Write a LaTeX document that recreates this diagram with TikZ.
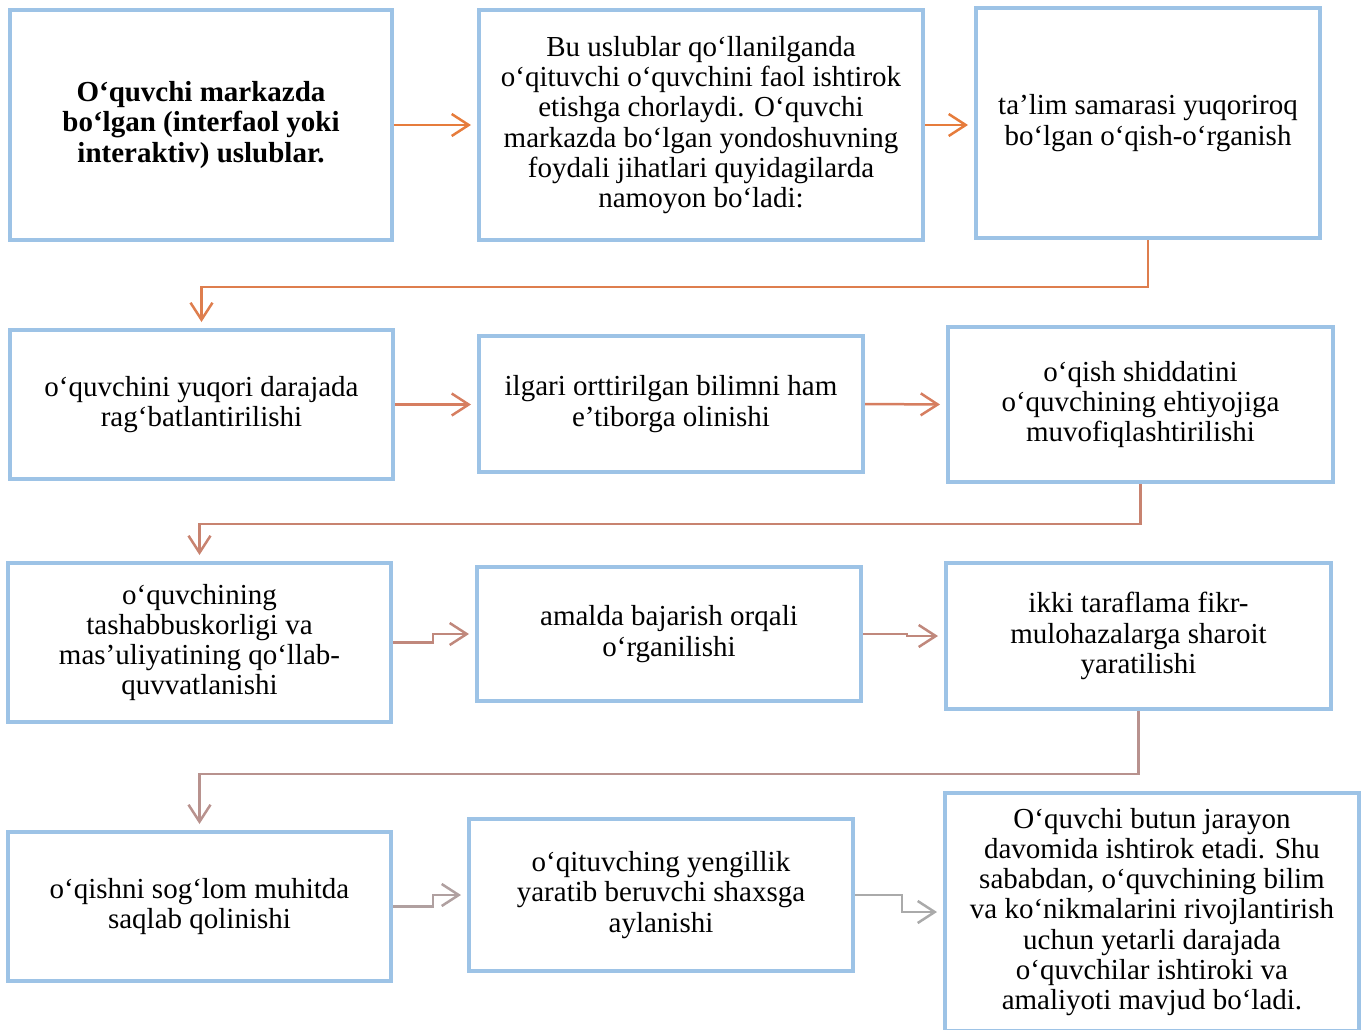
\documentclass[tikz,border=0pt]{standalone}
\usepackage{fontspec}
\setmainfont{Liberation Serif}
\usetikzlibrary{arrows.meta}
\definecolor{boxblue}{RGB}{157,195,230}
\definecolor{linkA}{RGB}{230,124,60}
\definecolor{linkB}{RGB}{222,126,78}
\definecolor{linkC}{RGB}{214,126,96}
\definecolor{linkD}{RGB}{200,131,112}
\definecolor{linkE}{RGB}{192,136,124}
\definecolor{linkF}{RGB}{184,146,142}
\definecolor{linkG}{RGB}{176,160,160}
\definecolor{linkH}{RGB}{170,170,170}
\begin{document}
\begin{tikzpicture}
	[x=1pt,y=-1pt,
	 box/.style={rectangle,draw=boxblue,line width=4pt,inner sep=0pt,align=center,
	   font=\fontsize{29}{30.3}\selectfont},
	 link/.style={line width=2.5pt,shorten >=6pt,-{Straight Barb[length=17pt,width=22pt,line width=2.5pt]}}]
	\useasboundingbox (0,0) rectangle (1361,1029);
	% first row
	\node[box,name=b1,minimum width=382pt,minimum height=230pt] at (201,125)
		{\bfseries O‘quvchi markazda\\\bfseries bo‘lgan (interfaol yoki\\\bfseries interaktiv) uslublar.};
	\node[box,name=b2,minimum width=444pt,minimum height=230pt] at (701,125)
		{Bu uslublar qo‘llanilganda\\o‘qituvchi o‘quvchini faol ishtirok\\etishga chorlaydi. O‘quvchi\\markazda bo‘lgan yondoshuvning\\foydali jihatlari quyidagilarda\\namoyon bo‘ladi:};
	\node[box,name=b3,minimum width=344pt,minimum height=230pt] at (1148,123)
		{ta’lim samarasi yuqoriroq\\bo‘lgan o‘qish-o‘rganish};
	% second row
	\node[box,name=b4,minimum width=383pt,minimum height=149pt] at (201.5,404.5)
		{o‘quvchini yuqori darajada\\rag‘batlantirilishi};
	\node[box,name=b5,minimum width=384pt,minimum height=136pt] at (671,404)
		{ilgari orttirilgan bilimni ham\\e’tiborga olinishi};
	\node[box,name=b6,minimum width=385pt,minimum height=155pt] at (1140.5,404.5)
		{o‘qish shiddatini\\o‘quvchining ehtiyojiga\\muvofiqlashtirilishi};
	% third row
	\node[box,name=b7,minimum width=383pt,minimum height=159pt] at (199.5,642.5)
		{o‘quvchining\\tashabbuskorligi va\\mas’uliyatining qo‘llab-\\quvvatlanishi};
	\node[box,name=b8,minimum width=384pt,minimum height=134pt] at (669,634)
		{amalda bajarish orqali\\o‘rganilishi};
	\node[box,name=b9,minimum width=385pt,minimum height=146pt] at (1138.5,636)
		{ikki taraflama fikr-\\mulohazalarga sharoit\\yaratilishi};
	% fourth row
	\node[box,name=b10,minimum width=383pt,minimum height=149pt] at (199.5,906.5)
		{o‘qishni sog‘lom muhitda\\saqlab qolinishi};
	\node[box,name=b11,minimum width=384pt,minimum height=152pt] at (661,895)
		{o‘qituvching yengillik\\yaratib beruvchi shaxsga\\aylanishi};
	\node[box,name=b12,minimum width=414pt,minimum height=238pt] at (1152,912)
		{O‘quvchi butun jarayon\\davomida ishtirok etadi. Shu\\sababdan, o‘quvchining bilim\\va ko‘nikmalarini rivojlantirish\\uchun yetarli darajada\\o‘quvchilar ishtiroki va\\amaliyoti mavjud bo‘ladi.};
	% connectors
	\draw[link,linkA](b1.east)--(b2.west);
	\draw[link,linkA](b2.east)--(b2.east-|b3.west);
	\draw[link,linkB](b3.south)--++(0,47)-|(b4.north);
	\draw[link,linkC](b4.east)--(b4.east-|b5.west);
	\draw[link,linkC](b5.east)--(b6.west);
	\draw[link,linkD](b6.south)--++(0,40)-|(b7.north);
	\draw[link,linkE](b7.east)--++(40,0)|-(b8.west);
	\draw[link,linkE](b8.east)--++(44,0)|-(b9.west);
	\draw[link,linkF](b9.south)--++(0,63)-|(b10.north);
	\draw[link,linkG](b10.east)--++(40,0)|-(b11.west);
	\draw[link,linkH](b11.east)--++(47,0)|-(b12.west);
\end{tikzpicture}
\end{document}
